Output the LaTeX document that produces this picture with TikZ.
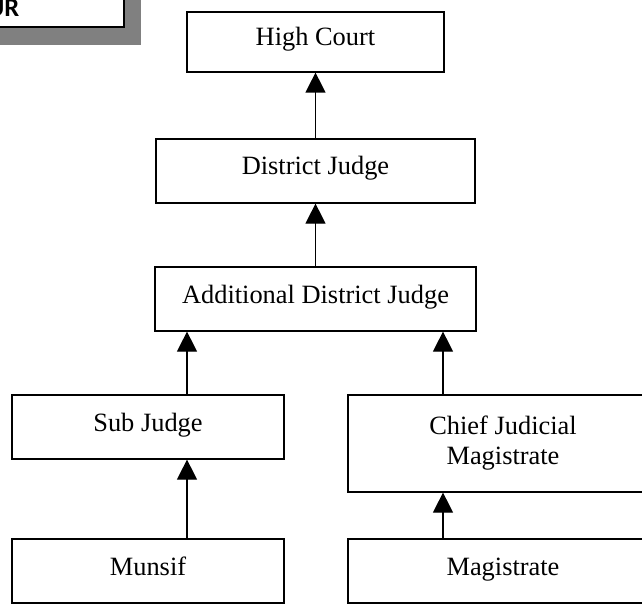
\documentclass[tikz,border=0pt]{standalone}
\usepackage{fontspec}
\setmainfont{Liberation Serif}
\newfontfamily\titlefont{Carlito}
\usetikzlibrary{arrows.meta}

\begin{document}
\begin{tikzpicture}[x=1pt,y=-1pt]
        \useasboundingbox (0,0) rectangle (642,604);
        \clip (0,0) rectangle (642,604);

        % corner of the title box
        \fill[gray] (-20,-20) rectangle (141,45);
        \draw[line width=1.3pt,fill=white] (-30,-30) rectangle (124,27);
        \node[anchor=base east,inner sep=0,font=\titlefont\bfseries\fontsize{26.5}{30}\selectfont] (title) at (19.5,17) {UR};

        \coordinate (lcol) at (187,0);
        \coordinate (rcol) at (443,0);

        \begin{scope}[every node/.style={draw,line width=1.2pt,inner sep=0,align=center,
            minimum height=64pt,text height=16pt,text depth=8pt,font=\fontsize{26.4}{30}\selectfont}]
          \node[minimum width=257pt,minimum height=60pt] (high) at (315.5,42) {High Court};
          \node[minimum width=319pt] (district) at (315.5,171) {District Judge};
          \node[minimum width=321pt] (adj) at (315.5,299) {Additional District Judge};
          \node[minimum width=272pt] (sub) at (148,427) {Sub Judge};
          \node[minimum width=310pt,minimum height=97pt,text height={},text depth={}] (chief) at (503,443.5) {Chief Judicial\\Magistrate};
          \node[minimum width=272pt] (munsif) at (148,571) {Munsif};
          \node[minimum width=310pt] (magistrate) at (503,571) {Magistrate};
        \end{scope}

        \begin{scope}[every edge/.style={draw,line width=1.2pt,-{Triangle[length=20pt,width=20pt]}}]
          \path (district) edge (high);
          \path (adj) edge (district);
          \path (sub.north -| lcol) edge (adj.south -| lcol);
          \path (chief.north -| rcol) edge (adj.south -| rcol);
          \path (munsif.north -| lcol) edge (sub.south -| lcol);
          \path (magistrate.north -| rcol) edge (chief.south -| rcol);
        \end{scope}

\end{tikzpicture}
\end{document}
